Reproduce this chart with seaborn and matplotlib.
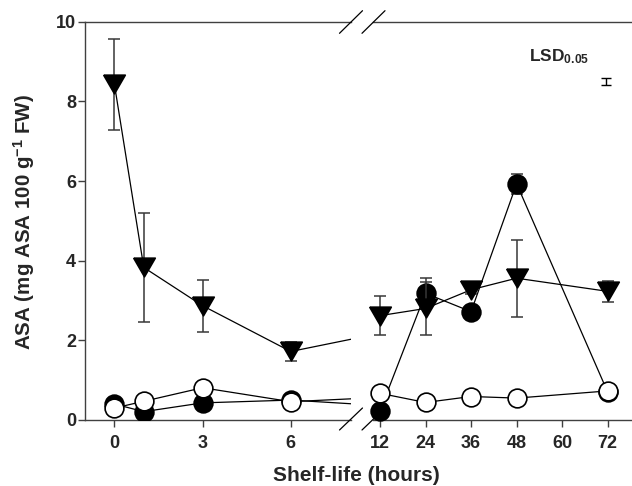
import matplotlib
matplotlib.use("Agg")
import matplotlib.pyplot as plt
from matplotlib.lines import Line2D
import numpy as np
import pandas as pd
import seaborn as sns

# Sampling times (hours of shelf life)
hours = [0, 1, 3, 6, 12, 24, 36, 48, 72]

# Ascorbic acid content (mg ASA 100 g-1 FW), mean and error per treatment
tri_mean = [8.43, 3.83, 2.87, 1.72, 2.62, 2.80, 3.27, 3.56, 3.23]
tri_err = [1.14, 1.36, 0.65, 0.24, 0.49, 0.67, 0.10, 0.97, 0.27]

filled_mean = [0.40, 0.21, 0.43, 0.50, 0.23, 3.18, 2.72, 5.93, 0.70]
filled_err = [0.05, 0.05, 0.05, 0.05, 0.05, 0.38, 0.10, 0.25, 0.05]

open_mean = [0.30, 0.47, 0.81, 0.46, 0.67, 0.44, 0.59, 0.55, 0.73]
open_err = [0.05, 0.05, 0.05, 0.05, 0.05, 0.05, 0.05, 0.05, 0.05]

# Least significant difference bar
lsd_hour = [71.5]
lsd_value = [8.5]
lsd_half = [0.08]

left_ticks = [0, 3, 6]
right_ticks = [12, 24, 36, 48, 60, 72]
y_ticks = [0, 2, 4, 6, 8, 10]

sns.set_theme(style="ticks")
plt.rcParams["font.family"] = ["Liberation Sans", "DejaVu Sans"]
plt.rcParams["font.weight"] = "bold"
plt.rcParams["mathtext.fontset"] = "custom"
plt.rcParams["mathtext.rm"] = "Liberation Sans:bold"
plt.rcParams["mathtext.bf"] = "Liberation Sans:bold"
plt.rcParams["mathtext.default"] = "bf"

W, H = 632, 486
fig = plt.figure(figsize=(W / 100, H / 100), dpi=100)


def fx(px):
    return px / W


def fy(py):
    return 1 - py / H


y0, y1 = 420.0, 21.7
ax_l = fig.add_axes([fx(85), fy(y0), fx(351) - fx(85), fy(y1) - fy(y0)])
ax_r = fig.add_axes([fx(373), fy(y0), fx(632) - fx(373), fy(y1) - fy(y0)])

# equilateral down-pointing triangle
tri_marker = [(-1, 0.866), (1, 0.866), (0, -0.866), (-1, 0.866)]

df = pd.DataFrame({
    "hours": hours,
    "tri": tri_mean, "tri_err": tri_err,
    "filled": filled_mean, "filled_err": filled_err,
    "open": open_mean, "open_err": open_err,
})

series = [
    ("filled", "o", "black", 13.5, 3),
    ("tri", tri_marker, "black", 15.5, 4),
    ("open", "o", "white", 13.5, 5),
]

for ax, sub, clip in [(ax_l, df, True), (ax_r, df[df["hours"] >= 12], False)]:
    for col, mk, fc, ms, z in series:
        eb = ax.errorbar(sub["hours"], sub[col], yerr=sub[col + "_err"], fmt="none",
                         ecolor="#383838", elinewidth=1.1, capsize=4, capthick=1.1,
                         zorder=z - 0.5)
        for art in list(eb.lines[1]) + list(eb.lines[2]):
            art.set_clip_on(clip)
        sns.lineplot(data=sub, x="hours", y=col, ax=ax, color="black", lw=0.9,
                     marker=mk, markersize=ms, markerfacecolor=fc,
                     markeredgecolor="black", markeredgewidth=1.2,
                     zorder=z, clip_on=clip, legend=False, estimator=None)

# LSD bar and label
ax_r.errorbar(lsd_hour, lsd_value, yerr=lsd_half, fmt="none", ecolor="black",
              elinewidth=1.0, capsize=3.5, capthick=1.0)
ax_r.text(51.3, 9.0, r"LSD$_{0.05}$", fontsize=12.5, fontweight="bold",
          ha="left", va="baseline")

ax_l.set_xlim(-1.0, 8.05)
ax_r.set_xlim(12 - 7 / 3.795, 72 + 24.3 / 3.795)
for ax in (ax_l, ax_r):
    ax.set_ylim(0, 10)
    ax.set_xlabel("")
    ax.set_ylabel("")
    for s in ax.spines.values():
        s.set_color("#404040")
        s.set_linewidth(1.0)
    ax.spines["right"].set_visible(False)

ax_r.spines["left"].set_visible(False)
ax_l.set_xticks(left_ticks)
ax_r.set_xticks(right_ticks)
ax_l.set_yticks(y_ticks)
ax_r.set_yticks([])

for ax in (ax_l, ax_r):
    ax.tick_params(axis="x", direction="out", length=5, width=1.0, color="#404040",
                   labelsize=13, pad=6)
    for lab in ax.get_xticklabels():
        lab.set_fontweight("bold")
ax_l.tick_params(axis="y", direction="out", length=5, width=1.0, color="#404040",
                 labelsize=13, pad=1.5)
for lab in ax_l.get_yticklabels():
    lab.set_fontweight("bold")

# axis break marks
for x0 in (339.5, 362.0):
    for (ya, yb) in ((33.3, 10.7), (430.0, 408.0)):
        fig.add_artist(Line2D([fx(x0), fx(x0 + 23)], [fy(ya), fy(yb)],
                              color="black", lw=0.9))

fig.text(fx(356), fy(475), "Shelf-life (hours)", fontsize=15, fontweight="bold",
         ha="center", va="center")
fig.text(fx(24), fy(222), r"ASA (mg ASA 100 g$^{-1}$ FW)", fontsize=14.8,
         fontweight="bold", rotation=90, ha="center", va="center")

fig.savefig("out.png", dpi=100)
